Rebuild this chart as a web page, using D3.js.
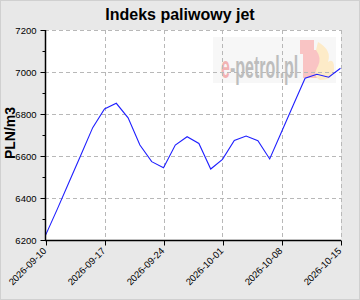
<!DOCTYPE html>
<html><head><meta charset="utf-8">
<script src="https://cdn.jsdelivr.net/npm/d3@7"></script>
<style>html,body{margin:0;padding:0;background:#e8e8e8;}svg{display:block;}</style>
</head><body>
<script>
const title = "Indeks paliwowy jet";
const yLabel = "PLN/m3";
const tickLabels = ["2026-09-10","2026-09-17","2026-09-24","2026-10-01","2026-10-08","2026-10-15"];
const tickIndex = [0,5,10,15,20,25];
const values = [6222,6347,6476,6605,6735,6824,6851,6782,6652,6573,6544,6652,6692,6660,6538,6584,6674,6695,6673,6586,6714,6843,6970,6989,6975,7018];
const yTicks = [6200,6400,6600,6800,7000,7200];

const W=360,H=300, L=45, R=341, T=30, B=240;
const svg=d3.select("body").append("svg").attr("width",W).attr("height",H);
svg.append("rect").attr("x",0.5).attr("y",0.5).attr("width",W-1).attr("height",H-1)
  .attr("fill","#e8e8e8").attr("stroke","#d0d0d0");
svg.append("rect").attr("x",L).attr("y",T).attr("width",R-L).attr("height",B-T).attr("fill","#fff");

const x=d3.scaleLinear().domain([0,values.length-1]).range([L+0.5,R-0.5]);
const y=d3.scaleLinear().domain([6200,7200]).range([B,T]);

// watermark
const defs=svg.append("defs");
const gr=defs.append("linearGradient").attr("id","wmg").attr("gradientUnits","userSpaceOnUse")
  .attr("x1",0).attr("x2",77).attr("y1",0).attr("y2",0);
gr.append("stop").attr("offset","0.13").attr("stop-color","#f2b3b3");
gr.append("stop").attr("offset","0.13").attr("stop-color","#bdbdbd");
const wm=svg.append("g");
wm.append("rect").attr("x",213).attr("y",37).attr("width",123).attr("height",46).attr("fill","#f7f7f7");
wm.append("rect").attr("x",300).attr("y",40).attr("width",14).attr("height",14).attr("fill","#f9c4c4");
wm.append("rect").attr("x",303).attr("y",50).attr("width",22).attr("height",28).attr("fill","#f9c4c4");
wm.append("path").attr("d","M318,42 Q332,50 328,62 Q334,58 334,68 Q334,80 320,80 Q312,76 318,66 Q322,58 316,50 Z").attr("fill","#fdebc8");
wm.append("text").attr("transform","translate(221,78) scale(1,2)")
  .attr("font-family","Liberation Sans, Arial")
  .attr("font-weight","bold").attr("font-size",16)
  .attr("fill","url(#wmg)").text("e-petrol.pl");

// grid
const grid=svg.append("g").attr("stroke","#b8b8b8").attr("stroke-dasharray","4,3").attr("stroke-width",1);
yTicks.forEach(v=>{ if(v>6200) grid.append("line").attr("x1",L).attr("x2",R).attr("y1",Math.round(y(v))+0.5).attr("y2",Math.round(y(v))+0.5);});
tickIndex.forEach(i=>{ if(i>0) grid.append("line").attr("x1",Math.round(x(i))+0.5).attr("x2",Math.round(x(i))+0.5).attr("y1",T).attr("y2",B);});

// line
svg.append("path").datum(values).attr("fill","none").attr("stroke","#1f1fff").attr("stroke-width",1.1)
  .attr("d",d3.line().x((d,i)=>x(i)).y(d=>y(d)));

// y axis
const ya=svg.append("g").attr("transform",`translate(${L+0.5},0)`)
  .call(d3.axisLeft(y).tickValues(d3.range(6200,7201,100)).tickSize(5).tickFormat(d=>yTicks.includes(d)?d:""));
ya.selectAll(".tick line").attr("x2",d=>yTicks.includes(d)?-5:-3);
ya.selectAll("text").attr("font-family","Liberation Sans, Arial").attr("font-size",9.5).attr("fill","#000").attr("x",-9);
ya.select(".domain").attr("d",`M0,${T}V${B}`);
// x axis
const xa=svg.append("g").attr("transform",`translate(0,${B+0.5})`)
  .call(d3.axisBottom(x).tickValues(tickIndex).tickSize(5).tickFormat((d,i)=>tickLabels[i]));
xa.select(".domain").attr("d",`M${L},0H${R}`);
xa.selectAll(".tick line").attr("transform","translate(0.5,0)");
xa.selectAll("text").attr("font-family","Liberation Sans, Arial").attr("font-size",9.5).attr("fill","#000")
  .attr("text-anchor","end").attr("dy",0).attr("transform","translate(1,11) rotate(-45)").attr("y",0).attr("x",0);
svg.selectAll(".domain").attr("stroke","#000").attr("stroke-width",1.5);

svg.append("text").attr("x",180).attr("y",20).attr("text-anchor","middle").attr("font-family","Liberation Sans, Arial")
  .attr("font-weight","bold").attr("font-size",16).text(title);
svg.append("text").attr("transform","translate(15,133) rotate(-90)").attr("text-anchor","middle")
  .attr("font-family","Liberation Sans, Arial").attr("font-weight","bold").attr("font-size",14).text(yLabel);
</script>
</body></html>
